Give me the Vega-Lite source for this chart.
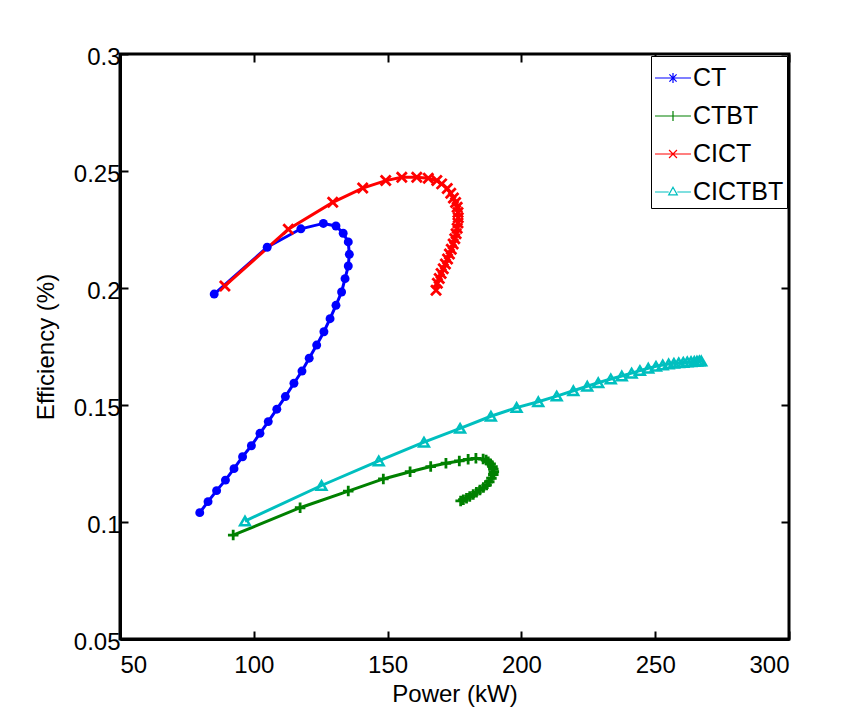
{
  "$schema": "https://vega.github.io/schema/vega-lite/v6.json",
  "autosize": {"type": "none"},
  "padding": {"left": 120, "top": 54, "right": 66, "bottom": 74},
  "width": 669,
  "height": 585,
  "background": "white",
  "config": {
    "view": {"stroke": "black", "strokeWidth": 3},
    "font": "Liberation Sans",
    "axis": {
      "domainColor": "black", "domainWidth": 3, "tickColor": "black", "tickWidth": 2,
      "tickSize": -8, "grid": false, "labelFont": "Liberation Sans", "labelFontSize": 24,
      "labelColor": "black", "titleFont": "Liberation Sans", "titleFontSize": 24,
      "titleFontWeight": "normal", "titleColor": "black"
    }
  },
  "data": {"values": [
    {"s":"CT","i":0,"p":85.2,"e":0.1974},{"s":"CT","i":1,"p":105.0,"e":0.2174},{"s":"CT","i":2,"p":117.6,"e":0.2253},
    {"s":"CT","i":3,"p":126.0,"e":0.2276},{"s":"CT","i":4,"p":130.7,"e":0.2265},{"s":"CT","i":5,"p":133.4,"e":0.2234},
    {"s":"CT","i":6,"p":135.3,"e":0.2197},{"s":"CT","i":7,"p":135.7,"e":0.2144},{"s":"CT","i":8,"p":135.3,"e":0.2094},
    {"s":"CT","i":9,"p":134.1,"e":0.2040},{"s":"CT","i":10,"p":132.8,"e":0.1983},{"s":"CT","i":11,"p":130.7,"e":0.1926},
    {"s":"CT","i":12,"p":128.5,"e":0.1869},{"s":"CT","i":13,"p":126.2,"e":0.1813},{"s":"CT","i":14,"p":123.5,"e":0.1756},
    {"s":"CT","i":15,"p":120.7,"e":0.1700},{"s":"CT","i":16,"p":118.0,"e":0.1645},{"s":"CT","i":17,"p":115.0,"e":0.1593},
    {"s":"CT","i":18,"p":111.8,"e":0.1536},{"s":"CT","i":19,"p":108.6,"e":0.1482},{"s":"CT","i":20,"p":105.4,"e":0.1429},
    {"s":"CT","i":21,"p":102.3,"e":0.1379},{"s":"CT","i":22,"p":99.1,"e":0.1326},{"s":"CT","i":23,"p":95.8,"e":0.1279},
    {"s":"CT","i":24,"p":92.6,"e":0.1228},{"s":"CT","i":25,"p":89.4,"e":0.1179},{"s":"CT","i":26,"p":86.1,"e":0.1134},
    {"s":"CT","i":27,"p":82.9,"e":0.1087},{"s":"CT","i":28,"p":79.8,"e":0.1040},

    {"s":"CTBT","i":0,"p":92.3,"e":0.0944},{"s":"CTBT","i":1,"p":117.3,"e":0.1061},{"s":"CTBT","i":2,"p":135.3,"e":0.1132},
    {"s":"CTBT","i":3,"p":148.4,"e":0.1184},{"s":"CTBT","i":4,"p":158.4,"e":0.1215},{"s":"CTBT","i":5,"p":166.1,"e":0.1237},
    {"s":"CTBT","i":6,"p":171.8,"e":0.1251},{"s":"CTBT","i":7,"p":176.8,"e":0.1261},{"s":"CTBT","i":8,"p":180.1,"e":0.1268},
    {"s":"CTBT","i":9,"p":183.0,"e":0.1272},{"s":"CTBT","i":10,"p":185.7,"e":0.1269},{"s":"CTBT","i":11,"p":186.8,"e":0.1265},
    {"s":"CTBT","i":12,"p":187.6,"e":0.1258},{"s":"CTBT","i":13,"p":188.5,"e":0.1248},{"s":"CTBT","i":14,"p":189.2,"e":0.1237},
    {"s":"CTBT","i":15,"p":189.5,"e":0.1226},{"s":"CTBT","i":16,"p":189.7,"e":0.1215},{"s":"CTBT","i":17,"p":189.5,"e":0.1203},
    {"s":"CTBT","i":18,"p":188.8,"e":0.1187},{"s":"CTBT","i":19,"p":188.0,"e":0.1172},{"s":"CTBT","i":20,"p":187.0,"e":0.1158},
    {"s":"CTBT","i":21,"p":185.8,"e":0.1147},{"s":"CTBT","i":22,"p":184.5,"e":0.1137},{"s":"CTBT","i":23,"p":183.2,"e":0.1127},
    {"s":"CTBT","i":24,"p":182.0,"e":0.1118},{"s":"CTBT","i":25,"p":180.7,"e":0.1109},{"s":"CTBT","i":26,"p":179.5,"e":0.1101},
    {"s":"CTBT","i":27,"p":178.3,"e":0.1095},{"s":"CTBT","i":28,"p":177.3,"e":0.1090},

    {"s":"CICT","i":0,"p":89.2,"e":0.2009},{"s":"CICT","i":1,"p":112.9,"e":0.2251},{"s":"CICT","i":2,"p":129.5,"e":0.2366},
    {"s":"CICT","i":3,"p":140.7,"e":0.2427},{"s":"CICT","i":4,"p":149.3,"e":0.2459},{"s":"CICT","i":5,"p":155.3,"e":0.2473},
    {"s":"CICT","i":6,"p":160.9,"e":0.2473},{"s":"CICT","i":7,"p":165.2,"e":0.2469},{"s":"CICT","i":8,"p":168.4,"e":0.2459},
    {"s":"CICT","i":9,"p":170.2,"e":0.2445},{"s":"CICT","i":10,"p":172.3,"e":0.2425},{"s":"CICT","i":11,"p":173.6,"e":0.2405},
    {"s":"CICT","i":12,"p":174.6,"e":0.2385},{"s":"CICT","i":13,"p":175.4,"e":0.2365},{"s":"CICT","i":14,"p":176.0,"e":0.2345},
    {"s":"CICT","i":15,"p":176.3,"e":0.2323},{"s":"CICT","i":16,"p":176.4,"e":0.2300},{"s":"CICT","i":17,"p":176.3,"e":0.2278},
    {"s":"CICT","i":18,"p":176.0,"e":0.2255},{"s":"CICT","i":19,"p":175.6,"e":0.2232},{"s":"CICT","i":20,"p":175.1,"e":0.2210},
    {"s":"CICT","i":21,"p":174.5,"e":0.2188},{"s":"CICT","i":22,"p":173.8,"e":0.2166},{"s":"CICT","i":23,"p":173.1,"e":0.2145},
    {"s":"CICT","i":24,"p":172.4,"e":0.2124},{"s":"CICT","i":25,"p":171.6,"e":0.2103},{"s":"CICT","i":26,"p":170.8,"e":0.2082},
    {"s":"CICT","i":27,"p":170.0,"e":0.2062},{"s":"CICT","i":28,"p":169.3,"e":0.2041},{"s":"CICT","i":29,"p":168.6,"e":0.2020},
    {"s":"CICT","i":30,"p":168.1,"e":0.1990},

    {"s":"CICTBT","i":0,"p":96.7,"e":0.1004},{"s":"CICTBT","i":1,"p":125.3,"e":0.1156},{"s":"CICTBT","i":2,"p":146.7,"e":0.1261},
    {"s":"CICTBT","i":3,"p":163.6,"e":0.1341},{"s":"CICTBT","i":4,"p":177.1,"e":0.1400},{"s":"CICTBT","i":5,"p":188.6,"e":0.1452},
    {"s":"CICTBT","i":6,"p":198.2,"e":0.1489},{"s":"CICTBT","i":7,"p":206.3,"e":0.1514},{"s":"CICTBT","i":8,"p":213.2,"e":0.1538},
    {"s":"CICTBT","i":9,"p":219.4,"e":0.1561},{"s":"CICTBT","i":10,"p":224.6,"e":0.1580},{"s":"CICTBT","i":11,"p":228.7,"e":0.1595},
    {"s":"CICTBT","i":12,"p":233.4,"e":0.1611},{"s":"CICTBT","i":13,"p":237.5,"e":0.1624},{"s":"CICTBT","i":14,"p":241.2,"e":0.1636},
    {"s":"CICTBT","i":15,"p":244.3,"e":0.1647},{"s":"CICTBT","i":16,"p":247.4,"e":0.1657},{"s":"CICTBT","i":17,"p":250.3,"e":0.1665},
    {"s":"CICTBT","i":18,"p":252.8,"e":0.1671},{"s":"CICTBT","i":19,"p":255.0,"e":0.1675},{"s":"CICTBT","i":20,"p":257.0,"e":0.1678},
    {"s":"CICTBT","i":21,"p":258.8,"e":0.1680},{"s":"CICTBT","i":22,"p":260.5,"e":0.1682},{"s":"CICTBT","i":23,"p":262.0,"e":0.1684},
    {"s":"CICTBT","i":24,"p":263.4,"e":0.1685},{"s":"CICTBT","i":25,"p":264.6,"e":0.1686},{"s":"CICTBT","i":26,"p":265.6,"e":0.1687},
    {"s":"CICTBT","i":27,"p":266.5,"e":0.1688},{"s":"CICTBT","i":28,"p":267.2,"e":0.1688}
  ]},
  "resolve": {"axis": {"x": "independent", "y": "independent"}},
  "layer": [
    {
      "mark": {"type": "line", "strokeWidth": 3, "clip": true},
      "encoding": {
        "x": {"field": "p", "type": "quantitative", "scale": {"domain": [50, 300], "nice": false, "zero": false},
              "axis": {"orient": "bottom", "values": [50,100,150,200,250,300], "title": "Power (kW)", "labelPadding": 22, "titlePadding": 5}},
        "y": {"field": "e", "type": "quantitative", "scale": {"domain": [0.05, 0.3], "nice": false, "zero": false},
              "axis": {"orient": "left", "values": [0.05,0.1,0.15,0.2,0.25,0.3], "format": "~g", "title": "Efficiency (%)", "labelPadding": 8, "labelOffset": 3, "titleX": -62}},
        "color": {"field": "s", "type": "nominal",
                  "scale": {"domain": ["CT","CTBT","CICT","CICTBT"], "range": ["#0000ff","#008000","#ff0000","#00bfbf"]},
                  "legend": {
                    "title": null, "orient": "top-right", "offset": 2, "padding": 3, "rowPadding": 6,
                    "strokeColor": "black", "fillColor": "white", "labelFont": "Liberation Sans", "labelFontSize": 25,
                    "labelColor": "black", "labelOffset": 1, "symbolSize": 1296, "symbolStrokeWidth": 1.2,
                    "encode": {"symbols": {"update": {
                      "shape": {"signal": "datum.value === 'CT' ? 'M-1,0H1M0,-0.28V0.28M-0.2,-0.2L0.2,0.2M-0.2,0.2L0.2,-0.2' : datum.value === 'CTBT' ? 'M-1,0H1M0,-0.28V0.28' : datum.value === 'CICT' ? 'M-1,0H1M-0.22,-0.22L0.22,0.22M-0.22,0.22L0.22,-0.22' : 'M-1,0H-0.24M0.24,0H1M0,-0.26L0.24,0.16L-0.24,0.16Z'"},
                      "fill": {"value": "transparent"},
                      "size": {"value": 1296},
                      "strokeWidth": {"value": 1.2}
                    }}}
                  }},
        "order": {"field": "i", "type": "quantitative"}
      }
    },
    {
      "transform": [{"filter": "datum.s === 'CT'"}],
      "mark": {"type": "point", "shape": "circle", "filled": true, "size": 80, "opacity": 1, "color": "#0000ff"},
      "encoding": {
        "x": {"field": "p", "type": "quantitative", "axis": {"orient": "top", "values": [50,100,150,200,250,300], "labels": false, "title": null, "domain": false}},
        "y": {"field": "e", "type": "quantitative", "axis": {"orient": "right", "values": [0.05,0.1,0.15,0.2,0.25,0.3], "labels": false, "title": null, "domain": false}}
      }
    },
    {
      "transform": [{"filter": "datum.s === 'CTBT'"}],
      "mark": {"type": "point", "shape": "M-1,0H1M0,-1V1", "filled": false, "size": 110, "strokeWidth": 2.8, "opacity": 1, "color": "#008000"},
      "encoding": {
        "x": {"field": "p", "type": "quantitative", "axis": null},
        "y": {"field": "e", "type": "quantitative", "axis": null}
      }
    },
    {
      "transform": [{"filter": "datum.s === 'CICT'"}],
      "mark": {"type": "point", "shape": "M-1,-1L1,1M-1,1L1,-1", "filled": false, "size": 100, "strokeWidth": 2.8, "opacity": 1, "color": "#ff0000"},
      "encoding": {
        "x": {"field": "p", "type": "quantitative", "axis": null},
        "y": {"field": "e", "type": "quantitative", "axis": null}
      }
    },
    {
      "transform": [{"filter": "datum.s === 'CICTBT'"}],
      "mark": {"type": "point", "shape": "triangle-up", "filled": false, "size": 95, "strokeWidth": 2.5, "opacity": 1, "color": "#00bfbf"},
      "encoding": {
        "x": {"field": "p", "type": "quantitative", "axis": null},
        "y": {"field": "e", "type": "quantitative", "axis": null}
      }
    }
  ]
}
